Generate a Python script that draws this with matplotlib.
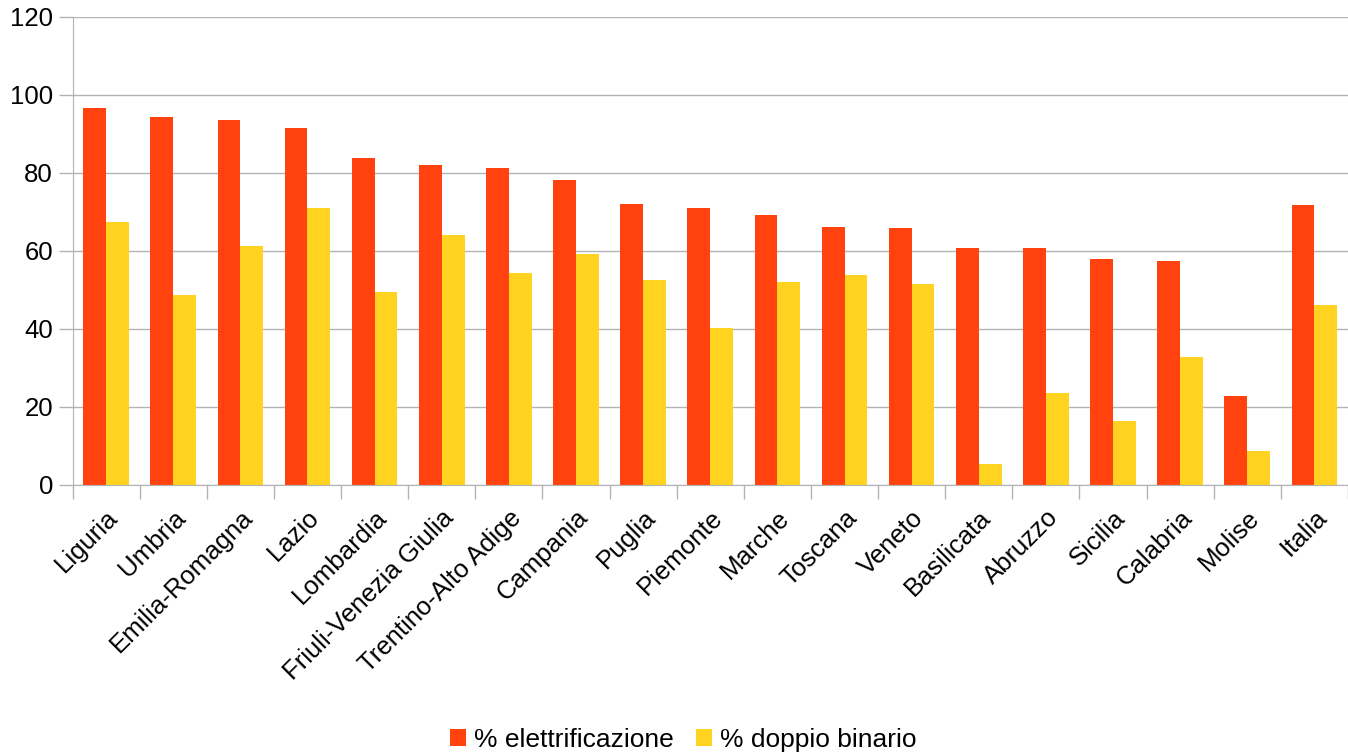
import matplotlib
matplotlib.use("Agg")
import matplotlib.pyplot as plt
import numpy as np

plt.rcParams["font.family"] = ["Liberation Sans", "DejaVu Sans"]

regions = ["Liguria", "Umbria", "Emilia-Romagna", "Lazio", "Lombardia",
           "Friuli-Venezia Giulia", "Trentino-Alto Adige", "Campania", "Puglia",
           "Piemonte", "Marche", "Toscana", "Veneto", "Basilicata", "Abruzzo",
           "Sicilia", "Calabria", "Molise", "Italia"]
elettrificazione = [96.5, 94.3, 93.5, 91.4, 83.7, 82.0, 81.2, 78.1, 72.0, 70.9,
                    69.1, 66.1, 65.8, 60.7, 60.7, 57.8, 57.3, 22.7, 71.7]
doppio_binario = [67.3, 48.6, 61.2, 70.9, 49.4, 64.0, 54.3, 59.1, 52.5, 40.2,
                  52.0, 53.7, 51.4, 5.3, 23.5, 16.3, 32.7, 8.6, 46.1]

RED = "#ff420e"
YELLOW = "#ffd320"
GRID = "#b3b3b3"
FS = 18.5

fig = plt.figure(figsize=(13.48, 7.56), dpi=100)
ax = fig.add_axes([0.0538, 0.359, 0.9462, 0.619])

x = np.arange(len(regions))
w = 0.34
ax.bar(x - w / 2, elettrificazione, width=w, color=RED, label="% elettrificazione", zorder=2)
ax.bar(x + w / 2, doppio_binario, width=w, color=YELLOW, label="% doppio binario", zorder=2)

ax.set_xlim(-0.5, len(regions) - 0.5)
ax.set_ylim(0, 120)
ax.set_yticks(range(0, 121, 20))
ax.grid(True, axis="y", color=GRID, linewidth=1, zorder=0)

ax.set_xticks(x)
ax.set_xticklabels(regions, rotation=45, ha="right", rotation_mode="anchor", fontsize=FS)
ax.set_xticks(np.arange(-0.5, len(regions), 1), minor=True)
ax.tick_params(axis="x", which="major", length=0, pad=15)
ax.tick_params(axis="x", which="minor", length=10, color=GRID, width=1)
ax.tick_params(axis="y", length=10, color=GRID, width=1, labelsize=FS, pad=4)

for s in ["top", "right"]:
    ax.spines[s].set_visible(False)
for s in ["left", "bottom"]:
    ax.spines[s].set_color(GRID)

fig.legend(loc="lower center", bbox_to_anchor=(0.507, -0.026), ncol=2, frameon=False,
           fontsize=19, handlelength=0.6, handleheight=0.6, handletextpad=0.3,
           columnspacing=0.85)

fig.savefig("out.png", dpi=100)
